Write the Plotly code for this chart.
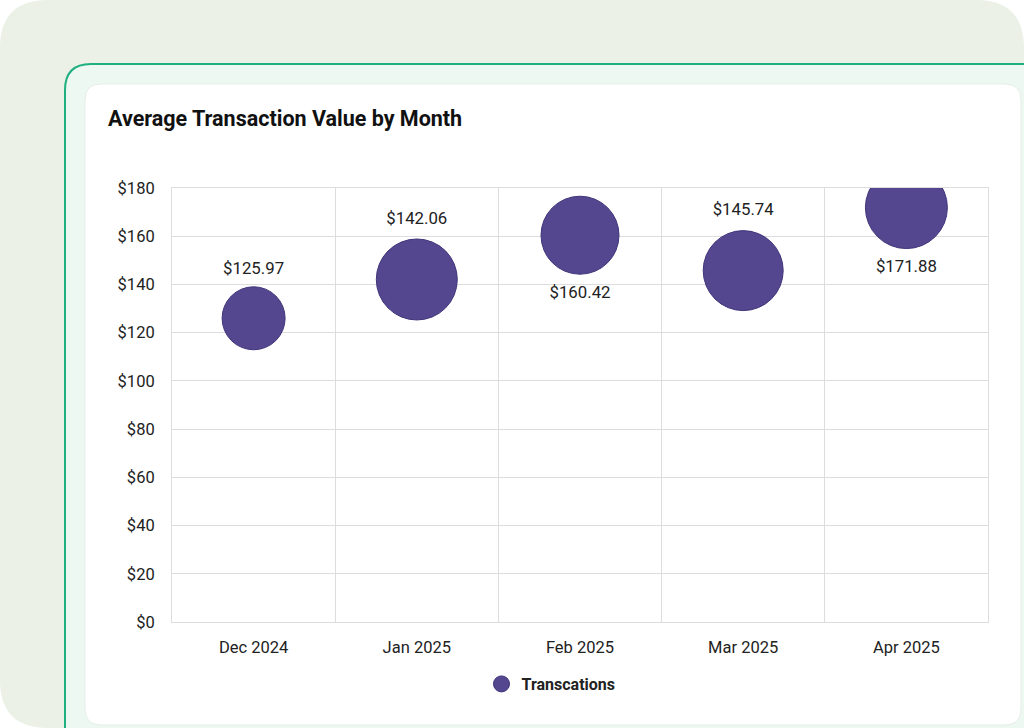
import plotly.graph_objects as go

months = ["Dec 2024", "Jan 2025", "Feb 2025", "Mar 2025", "Apr 2025"]
avg_value = [125.97, 142.06, 160.42, 145.74, 171.88]
bubble_size = [63, 81, 78, 80, 82]
label_pos = ["top center", "top center", "bottom center", "top center", "bottom center"]
y_ticks = list(range(0, 181, 20))
y_tick_text = [f"${v}" for v in y_ticks]

W, H = 1024, 728
FONT = "Roboto"


def px(x):
    return x / W


def py(y):
    return 1 - y / H


def rounded_rect(x0, y0, x1, y1, r):
    rx, ry = r / W, r / H
    X0, X1 = px(x0), px(x1)
    Y0, Y1 = py(y0), py(y1)  # Y0 is top (larger)
    return (
        f"M {X0 + rx},{Y0} L {X1 - rx},{Y0} Q {X1},{Y0} {X1},{Y0 - ry} "
        f"L {X1},{Y1 + ry} Q {X1},{Y1} {X1 - rx},{Y1} "
        f"L {X0 + rx},{Y1} Q {X0},{Y1} {X0},{Y1 + ry} "
        f"L {X0},{Y0 - ry} Q {X0},{Y0} {X0 + rx},{Y0} Z"
    )


x_idx = list(range(len(months)))

fig = go.Figure()
fig.add_trace(
    go.Scatter(
        x=x_idx,
        y=avg_value,
        mode="markers+text",
        name="Transcations",
        marker=dict(
            size=bubble_size,
            sizemode="diameter",
            sizeref=1,
            color="#54478F",
            line=dict(color="#3F3479", width=1),
            opacity=1,
        ),
        text=[f"${v:.2f}" for v in avg_value],
        textposition=label_pos,
        textfont=dict(family=FONT, size=16.8, color="#222222"),
        cliponaxis=True,
        hoverinfo="x+y",
    )
)

shapes = [
    dict(type="path", xref="paper", yref="paper", layer="below",
         path=rounded_rect(0, 0, 1024, 728, 48),
         fillcolor="#EBF1E6", line=dict(width=0)),
    dict(type="path", xref="paper", yref="paper", layer="below",
         path=rounded_rect(65, 64, 1060, 780, 26),
         fillcolor="#EDF8F2", line=dict(color="#1FAF80", width=2)),
    dict(type="path", xref="paper", yref="paper", layer="below",
         path=rounded_rect(85, 84, 1021, 725, 16),
         fillcolor="#FFFFFF", line=dict(color="#E6EEE9", width=1)),
]

fig.update_layout(
    width=W,
    height=H,
    autosize=False,
    margin=dict(l=0, r=0, t=0, b=0, pad=0, autoexpand=False),
    paper_bgcolor="#FFFFFF",
    plot_bgcolor="rgba(0,0,0,0)",
    shapes=shapes,
    font=dict(family=FONT, size=16, color="#222222"),
    showlegend=True,
    legend=dict(
        orientation="h",
        x=px(551), xanchor="center",
        y=py(684), yanchor="middle",
        font=dict(family=FONT, size=16, color="#222222", weight="bold"),
        bgcolor="rgba(0,0,0,0)",
    ),
    annotations=[
        dict(
            text="<b>Average Transaction Value by Month</b>",
            xref="paper", yref="paper",
            x=px(106), y=py(119),
            xanchor="left", yanchor="middle",
            showarrow=False,
            font=dict(family=FONT, size=21.5, color="#111111"),
        )
    ],
    xaxis=dict(
        domain=[px(172), px(988)],
        range=[-0.5, len(months) - 0.5],
        tickmode="array",
        tickvals=x_idx,
        ticktext=months,
        showgrid=False,
        zeroline=False,
        showline=True,
        mirror=True,
        linecolor="#DDDDDD",
        linewidth=1,
        ticks="outside",
        ticklen=10,
        tickcolor="rgba(0,0,0,0)",
        tickfont=dict(family=FONT, size=16.5, color="#222222"),
        minor=dict(tick0=0.5, dtick=1, showgrid=True, gridcolor="#DDDDDD", gridwidth=1),
        automargin=False,
        fixedrange=True,
    ),
    yaxis=dict(
        domain=[py(622), py(188)],
        range=[0, 180],
        tickmode="array",
        tickvals=y_ticks,
        ticktext=y_tick_text,
        showgrid=True,
        gridcolor="#DDDDDD",
        gridwidth=1,
        zeroline=False,
        showline=True,
        mirror=True,
        linecolor="#DDDDDD",
        linewidth=1,
        ticks="outside",
        ticklen=13,
        tickcolor="rgba(0,0,0,0)",
        tickfont=dict(family=FONT, size=16.5, color="#222222"),
        automargin=False,
        fixedrange=True,
    ),
)

fig.write_html(
    "out.html",
    config={"responsive": False, "displayModeBar": False},
    post_script=(
        "document.documentElement.style.margin='0';"
        "document.body.style.margin='0';"
        "document.body.style.padding='0';"
        "document.documentElement.style.overflow='hidden';"
    ),
)
